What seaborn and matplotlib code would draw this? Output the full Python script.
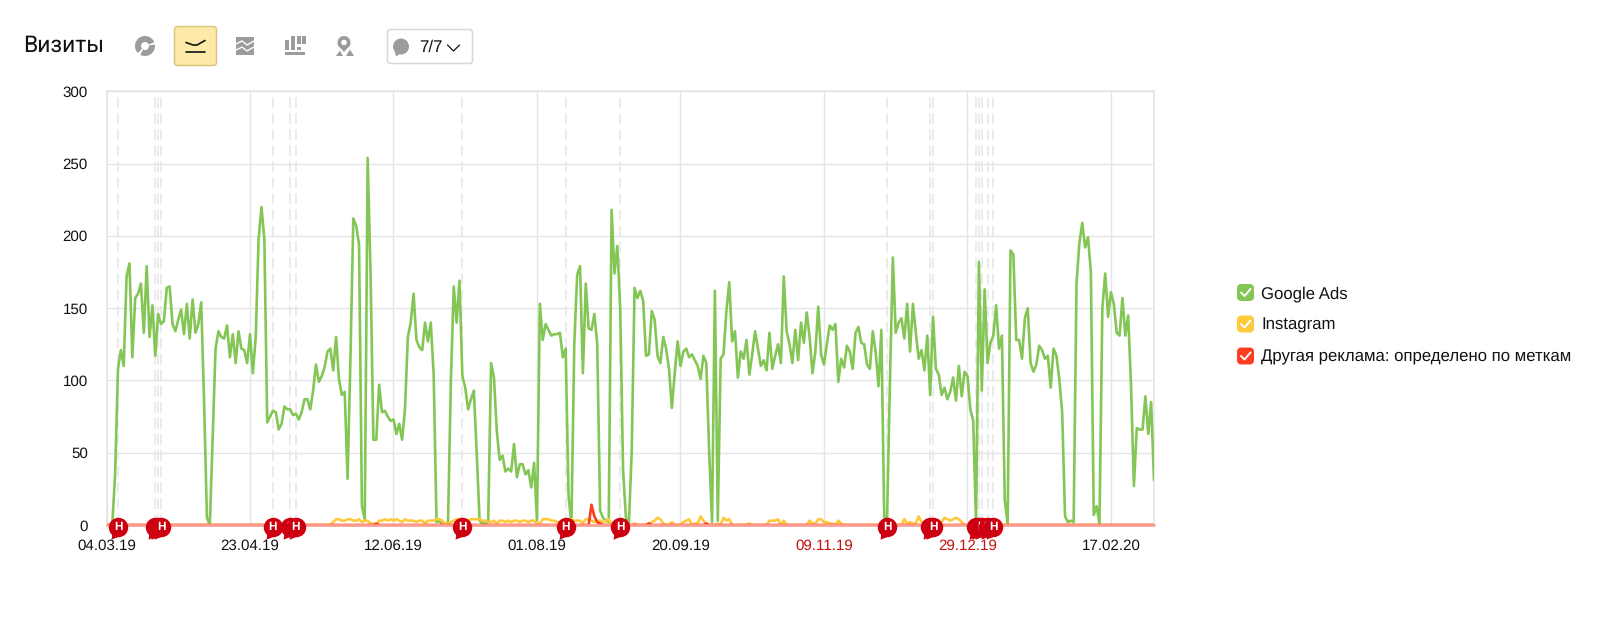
import matplotlib
matplotlib.use("Agg")
import matplotlib.pyplot as plt
from matplotlib.patches import Circle, FancyBboxPatch, Polygon, Rectangle, Wedge
from matplotlib.path import Path
import numpy as np
import pandas as pd
import seaborn as sns

START_DATE = "2019-03-04"

GOOGLE_ADS = [
    0, 0, 0, 35, 108, 121, 110, 172, 181, 116,
    157, 160, 167, 133, 179, 130, 152, 117, 146, 139,
    141, 164, 165, 139, 134, 142, 149, 132, 153, 129,
    156, 133, 139, 154, 85, 5, 0, 60, 122, 134,
    130, 129, 138, 116, 132, 112, 134, 122, 121, 112,
    132, 105, 130, 198, 220, 198, 71, 75, 79, 78,
    66, 70, 82, 80, 80, 76, 77, 73, 78, 87,
    87, 80, 93, 111, 99, 103, 109, 120, 122, 107,
    130, 101, 90, 92, 32, 115, 212, 207, 194, 13,
    4, 254, 175, 59, 59, 97, 78, 79, 75, 72,
    73, 63, 70, 59, 80, 130, 140, 160, 128, 123,
    121, 140, 127, 140, 104, 2, 3, 0, 0, 2,
    100, 165, 140, 169, 103, 95, 80, 87, 93, 50,
    3, 1, 1, 2, 112, 102, 65, 45, 48, 37,
    39, 37, 56, 33, 42, 42, 35, 38, 26, 43,
    3, 153, 128, 139, 135, 131, 132, 132, 133, 116,
    122, 20, 1, 125, 173, 179, 105, 167, 136, 135,
    146, 125, 10, 5, 3, 2, 218, 174, 193, 150,
    38, 5, 0, 50, 164, 157, 162, 155, 117, 118,
    148, 142, 117, 112, 130, 122, 108, 81, 105, 127,
    110, 120, 122, 116, 118, 114, 110, 101, 117, 112,
    50, 2, 162, 3, 115, 118, 148, 168, 127, 134,
    102, 120, 115, 128, 104, 118, 134, 122, 110, 114,
    107, 133, 108, 117, 125, 112, 172, 134, 125, 112,
    135, 114, 140, 126, 147, 130, 105, 120, 151, 118,
    111, 125, 138, 135, 139, 99, 115, 109, 124, 120,
    108, 133, 137, 126, 125, 111, 108, 134, 120, 96,
    135, 5, 5, 100, 185, 133, 140, 143, 129, 153,
    120, 153, 133, 115, 121, 107, 131, 90, 144, 108,
    104, 90, 95, 87, 92, 102, 86, 110, 89, 106,
    103, 80, 72, 1, 182, 93, 163, 112, 126, 131,
    152, 122, 131, 17, 1, 190, 187, 128, 128, 115,
    143, 150, 112, 106, 111, 124, 121, 115, 117, 95,
    122, 117, 101, 78, 6, 2, 3, 2, 167, 195,
    209, 192, 199, 175, 7, 13, 1, 150, 174, 144,
    161, 153, 133, 131, 157, 131, 145, 96, 27, 67,
    66, 66, 89, 63, 85, 31,
]

INSTAGRAM = [
    0, 0, 0, 0, 0, 0, 0, 0, 0, 0, 0, 0, 0, 0, 0, 0, 0, 0, 0, 0,
    0, 0, 0, 0, 0, 0, 0, 0, 0, 0, 0, 0, 0, 0, 0, 0, 0, 0, 0, 0,
    0, 0, 0, 0, 0, 0, 0, 0, 0, 0, 0, 0, 0, 0, 0, 0, 0, 0, 0, 0,
    0, 0, 0, 0, 0, 0, 0, 0, 0, 0, 0, 0, 0, 0, 0, 0, 0, 0, 0, 2,
    4, 4, 3, 3, 4, 4, 3, 3, 4, 2, 3, 3, 1, 1, 0, 3, 3, 4, 3, 4,
    3, 4, 3, 2, 4, 3, 3, 3, 2, 3, 3, 1, 3, 3, 3, 4, 4, 3, 1, 1,
    2, 3, 4, 4, 4, 4, 3, 4, 4, 4, 4, 3, 3, 2, 2, 3, 1, 3, 3, 2,
    3, 2, 3, 3, 2, 3, 3, 2, 3, 3, 1, 1, 4, 4, 4, 3, 3, 2, 2, 2,
    3, 3, 4, 3, 3, 3, 1, 4, 4, 3, 2, 3, 3, 2, 3, 4, 1, 0, 0, 3,
    2, 1, 0, 0, 1, 0, 0, 0, 0, 1, 2, 3, 5, 4, 1, 0, 0, 2, 0, 0,
    0, 2, 3, 4, 0, 1, 1, 6, 3, 1, 0, 0, 0, 1, 0, 5, 3, 4, 0, 0,
    0, 0, 0, 0, 1, 0, 0, 0, 0, 0, 0, 3, 3, 3, 4, 0, 3, 0, 0, 0,
    0, 0, 0, 0, 0, 3, 1, 1, 4, 4, 2, 2, 1, 1, 0, 3, 1, 0, 0, 0,
    0, 0, 0, 0, 0, 0, 0, 0, 0, 0, 0, 0, 0, 0, 0, 0, 0, 0, 4, 1,
    2, 1, 1, 6, 2, 1, 2, 2, 1, 1, 0, 2, 5, 4, 3, 4, 5, 4, 2, 0,
    0, 0, 0, 0, 0, 0, 0, 0, 0, 0, 0, 0, 0, 0, 0, 0, 0, 0, 0, 0,
    0, 0, 0, 0, 0, 0, 0, 0, 0, 0, 0, 0, 0, 0, 0, 0, 0, 0, 0, 0,
    0, 0, 0, 0, 0, 0, 0, 0, 0, 0, 0, 0, 0, 0, 0, 0, 0, 0, 0, 0,
    0, 0, 0, 0, 0, 0,
]

OTHER_ADS = [
    0, 0, 0, 0, 0, 0, 0, 0, 0, 0, 0, 0, 0, 0, 0, 0, 0, 0, 0, 0,
    0, 0, 0, 0, 0, 0, 0, 0, 0, 0, 0, 0, 0, 0, 0, 0, 0, 0, 0, 0,
    0, 0, 0, 0, 0, 0, 0, 0, 0, 0, 0, 0, 0, 0, 0, 0, 0, 0, 0, 0,
    0, 0, 0, 0, 0, 0, 0, 0, 0, 0, 0, 0, 0, 0, 0, 0, 0, 0, 0, 0,
    0, 0, 0, 0, 0, 0, 0, 0, 0, 0, 0, 0, 0, 0, 1, 0, 0, 0, 0, 0,
    0, 0, 0, 0, 0, 0, 0, 0, 0, 0, 0, 0, 0, 0, 0, 0, 0, 0, 0, 0,
    0, 0, 0, 0, 0, 0, 0, 0, 0, 0, 0, 0, 0, 0, 0, 0, 0, 0, 0, 0,
    0, 0, 0, 0, 0, 0, 0, 0, 0, 0, 0, 0, 0, 0, 0, 0, 0, 0, 0, 0,
    0, 0, 0, 0, 0, 0, 0, 0, 0, 14, 6, 2, 1, 0, 0, 0, 0, 0, 0, 0,
    0, 0, 0, 0, 0, 0, 0, 0, 0, 1, 0, 0, 0, 0, 0, 0, 0, 0, 0, 0,
    0, 0, 0, 0, 0, 0, 0, 0, 0, 1, 0, 0, 0, 0, 0, 0, 0, 0, 0, 0,
    0, 0, 0, 0, 0, 0, 0, 0, 0, 0, 0, 0, 0, 0, 0, 0, 0, 0, 0, 0,
    0, 0, 0, 0, 0, 0, 0, 0, 0, 0, 0, 0, 0, 0, 0, 0, 0, 0, 0, 0,
    0, 0, 0, 0, 0, 0, 0, 0, 0, 0, 0, 0, 0, 0, 0, 0, 0, 0, 0, 0,
    0, 0, 0, 0, 0, 0, 0, 0, 0, 0, 0, 0, 0, 0, 0, 0, 0, 0, 0, 0,
    0, 0, 0, 0, 0, 0, 0, 0, 0, 0, 0, 0, 0, 0, 0, 0, 0, 0, 0, 0,
    0, 0, 0, 0, 0, 0, 0, 0, 0, 0, 0, 0, 0, 0, 0, 0, 0, 0, 0, 0,
    0, 0, 0, 0, 0, 0, 0, 0, 0, 0, 0, 0, 0, 0, 0, 0, 0, 0, 0, 0,
    0, 0, 0, 0, 0, 0,
]

SERIES_NAMES = ["Google Ads", "Instagram", "Другая реклама: определено по меткам"]
SERIES_COLORS = ["#84c656", "#ffc93c", "#ff3d20"]

# day numbers of the note markers along the bottom
NOTE_DAYS = [4, 17, 18, 19, 58, 64, 66, 124, 160, 179, 272, 287, 288, 303, 304, 305, 307, 309]

X_TICK_DAYS = [0, 50, 100, 150, 200, 250, 300, 350]
X_TICK_LABELS = ["04.03.19", "23.04.19", "12.06.19", "01.08.19",
                 "20.09.19", "09.11.19", "29.12.19", "17.02.20"]
X_TICK_RED = ["09.11.19", "29.12.19"]
Y_TICKS = [0, 50, 100, 150, 200, 250, 300]

W, H = 1600, 629
GRID = "#e4e4e4"
ICON = "#9c9c9c"

sns.set_theme(style="white")
plt.rcParams["font.family"] = ["Liberation Sans", "DejaVu Sans"]
plt.rcParams["text.hinting"] = "no_hinting"

dates = pd.date_range(START_DATE, periods=len(GOOGLE_ADS), freq="D")
df = pd.DataFrame({"date": dates, "Google Ads": GOOGLE_ADS, "Instagram": INSTAGRAM,
                   SERIES_NAMES[2]: OTHER_ADS})
long_df = df.melt(id_vars="date", var_name="source", value_name="visits")

fig = plt.figure(figsize=(W / 100, H / 100), dpi=100, facecolor="white")
ax = fig.add_axes([106.5 / W, 1 - 525 / H, (1154 - 106.5) / W, (525 - 91.3) / H])

sns.lineplot(data=long_df, x="date", y="visits", hue="source", hue_order=SERIES_NAMES,
             palette=SERIES_COLORS, legend=False, estimator=None, linewidth=1.9, ax=ax, zorder=3)

ax.set_xlim(dates[0], dates[-1])
ax.set_ylim(0, 300)
ax.set_xlabel("")
ax.set_ylabel("")
ax.set_yticks(Y_TICKS)
ax.set_xticks(dates[X_TICK_DAYS])
ax.set_xticklabels(X_TICK_LABELS)
ax.tick_params(axis="both", length=0, labelsize=10.9, labelcolor="#111111")
ax.tick_params(axis="y", pad=13.5)
ax.tick_params(axis="x", pad=10)
for lab in ax.get_xticklabels():
    if lab.get_text() in X_TICK_RED:
        lab.set_color("#c40f0f")
ax.grid(True, color=GRID, linewidth=0.95, zorder=0)
ax.set_axisbelow(True)
for side, sp in ax.spines.items():
    sp.set_color(GRID)
    sp.set_linewidth(1.1)

# pale baseline over the zero values
ax.axhline(0, color="#fb9f93", linewidth=2.0, zorder=4, clip_on=False)

# note markers: dashed line + red bubble with a tail
circle = Path.unit_circle()
tail = Path([(-0.6, -0.6), (-0.72, -1.25), (0.05, -0.95), (-0.6, -0.6)], closed=True)
bubble = Path.make_compound_path(circle, tail)
for k, day in enumerate(NOTE_DAYS):
    ax.axvline(dates[day], color="#e6e6e6", linewidth=1.1, dashes=(7, 3.5), zorder=1)
    ax.scatter([dates[day]], [-1.2], marker=bubble, s=307, color="#cc0010", linewidths=0,
               clip_on=False, zorder=10 + 2 * k)
    ax.text(dates[day], -1.4, "Н", color="white", fontsize=8.5, fontweight="bold",
            ha="center", va="center", clip_on=False, zorder=11 + 2 * k)

# everything around the plot is placed in pixels on a full-figure axes
ui = fig.add_axes([0, 0, 1, 1], facecolor="none")
ui.set_xlim(0, W)
ui.set_ylim(H, 0)
ui.axis("off")

ui.text(23, 45, "Визиты", fontsize=16.5, color="#111111", va="center", family=["Roboto", "DejaVu Sans"])

# pie icon
ui.add_patch(Wedge((145, 46), 10, 0, 360, width=6, color=ICON, lw=0))
ui.add_patch(Wedge((145, 46), 11, 118, 136, color="white", lw=0))
ui.add_patch(Wedge((145, 46), 11, 338, 352, color="white", lw=0))

# active chart type button
ui.add_patch(FancyBboxPatch((174.5, 26.5), 42, 39, boxstyle="round,pad=0,rounding_size=3",
                            fc="#fdeaa8", ec="#dcc680", lw=1.1))
ui.plot([186, 193, 197, 205], [42.5, 45, 45, 40.5], color="#111111", lw=1.2)
ui.plot([186, 205], [51.5, 51.5], color="#111111", lw=1.2)

# stacked area icon
ui.add_patch(Rectangle((236, 37), 18, 18, color=ICON, lw=0))
for y0 in [43, 49]:
    ui.plot([236, 242, 247, 254], [y0 + 1, y0 - 2, y0 + 2, y0 - 2], color="white", lw=1.0)

# bars icon
for x0, y0, y1 in [(285, 39.5, 50), (291, 36, 50), (297, 36, 44), (297, 46.5, 50), (302, 36, 44)]:
    ui.add_patch(Rectangle((x0, y0), 4.2 if x0 != 297 else 3.8, y1 - y0, color=ICON, lw=0))
ui.add_patch(Rectangle((285, 52), 20, 3, color=ICON, lw=0))

# map pin icon
ui.add_patch(Wedge((344, 42.5), 6.5, 0, 360, width=3.8, color=ICON, lw=0))
ui.add_patch(Polygon([(338.3, 45.5), (349.7, 45.5), (344, 52)], color=ICON, lw=0))
ui.add_patch(Circle((344, 42.5), 2.6, color="white", lw=0))
ui.add_patch(Polygon([(336, 56), (340, 50.5), (343, 56)], color=ICON, lw=0))
ui.add_patch(Polygon([(346, 56), (350, 49.5), (354, 56)], color=ICON, lw=0))

# notes dropdown
ui.add_patch(FancyBboxPatch((387.5, 29.5), 85, 34, boxstyle="round,pad=0,rounding_size=3",
                            fc="white", ec="#d8d8d8", lw=1.1))
ui.add_patch(Circle((401, 46.5), 8, color=ICON, lw=0))
ui.add_patch(Polygon([(394.5, 50), (396, 56.5), (401, 53)], color=ICON, lw=0))
ui.text(419, 47, "7/7", fontsize=12.2, color="#111111", va="center")
ui.plot([447.5, 453.5, 459.5], [45, 51, 45], color="#111111", lw=0.9)

# legend with check boxes
for name, color, yc in zip(SERIES_NAMES, SERIES_COLORS, [292.5, 324, 356]):
    ui.add_patch(FancyBboxPatch((1238, yc - 7.5), 15, 15, boxstyle="round,pad=0,rounding_size=3",
                                fc=color, ec=color, lw=1.4))
    ui.plot([1241, 1244.5, 1250.5], [yc, yc + 3.5, yc - 3.5], color="white", lw=1.4)
    ui.text(1261, yc + 5.5, name, fontsize=12.1, color="#111111", va="baseline")

fig.savefig("out.png", dpi=100)
